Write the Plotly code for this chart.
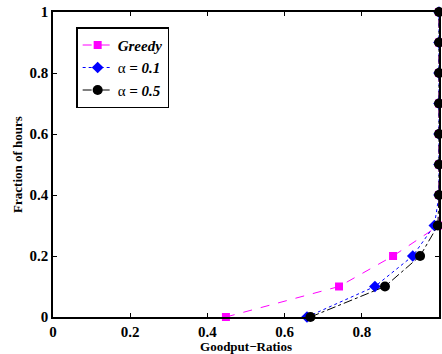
import plotly.graph_objects as go

greedy_x = [0.448, 0.741, 0.881, 1.0, 1.0, 1.0, 1.0, 1.0, 1.0, 1.0, 1.0]
greedy_y = [0.0, 0.1, 0.2, 0.3, 0.4, 0.5, 0.6, 0.7, 0.8, 0.9, 1.0]
a01_x = [0.658, 0.834, 0.932, 0.988, 1.0, 1.0, 1.0, 1.0, 1.0, 1.0, 1.0]
a01_y = [0.0, 0.1, 0.2, 0.3, 0.4, 0.5, 0.6, 0.7, 0.8, 0.9, 1.0]
a05_x = [0.667, 0.860, 0.951, 0.997, 1.0, 1.0, 1.0, 1.0, 1.0, 1.0, 1.0]
a05_y = [0.0, 0.1, 0.2, 0.3, 0.4, 0.5, 0.6, 0.7, 0.8, 0.9, 1.0]
tick_vals = [0, 0.2, 0.4, 0.6, 0.8, 1]
tick_text = ["0", "0.2", "0.4", "0.6", "0.8", "1"]

FONT = "Liberation Serif"

fig = go.Figure()
fig.add_trace(go.Scatter(x=greedy_x, y=greedy_y, mode="lines+markers",
                         name="<b><i>Greedy</i></b>",
                         line=dict(color="#ff00ff", width=1, dash="dash"),
                         marker=dict(symbol="square", size=8, color="#ff00ff"),
                         cliponaxis=False))
fig.add_trace(go.Scatter(x=a01_x, y=a01_y, mode="lines+markers",
                         name="α <b><i>= 0.1</i></b>",
                         line=dict(color="#0000ff", width=1, dash="dot"),
                         marker=dict(symbol="diamond", size=9, color="#0000ff"),
                         cliponaxis=False))
fig.add_trace(go.Scatter(x=a05_x, y=a05_y, mode="lines+markers",
                         name="α <b><i>= 0.5</i></b>",
                         line=dict(color="#000000", width=1, dash="dashdot"),
                         marker=dict(symbol="circle", size=10, color="#000000"),
                         cliponaxis=False))

axis_common = dict(range=[0, 1], tickvals=tick_vals, ticktext=tick_text,
                   ticks="inside", ticklen=4, tickcolor="black",
                   showline=True, linecolor="black", linewidth=1.5, mirror="ticks",
                   showgrid=False, zeroline=False, automargin=False,
                   tickfont=dict(family=FONT, size=15, color="black", weight="bold"))

fig.update_layout(
    width=442, height=354,
    margin=dict(l=53, r=3, t=12, b=37),
    plot_bgcolor="white", paper_bgcolor="white",
    xaxis=dict(**axis_common,
               title=dict(text="<b>Goodput−Ratios</b>", standoff=2,
                          font=dict(family=FONT, size=13, color="black"))),
    yaxis=dict(**axis_common,
               title=dict(text="<b>Fraction of hours</b>", standoff=4,
                          font=dict(family=FONT, size=13, color="black"))),
    legend=dict(x=0.06, y=0.95, xanchor="left", yanchor="top",
                bordercolor="black", borderwidth=1.5, bgcolor="white",
                font=dict(family=FONT, size=15, color="black"),
                tracegroupgap=0, itemwidth=30),
    showlegend=True,
)

fig.write_html("out.html")
